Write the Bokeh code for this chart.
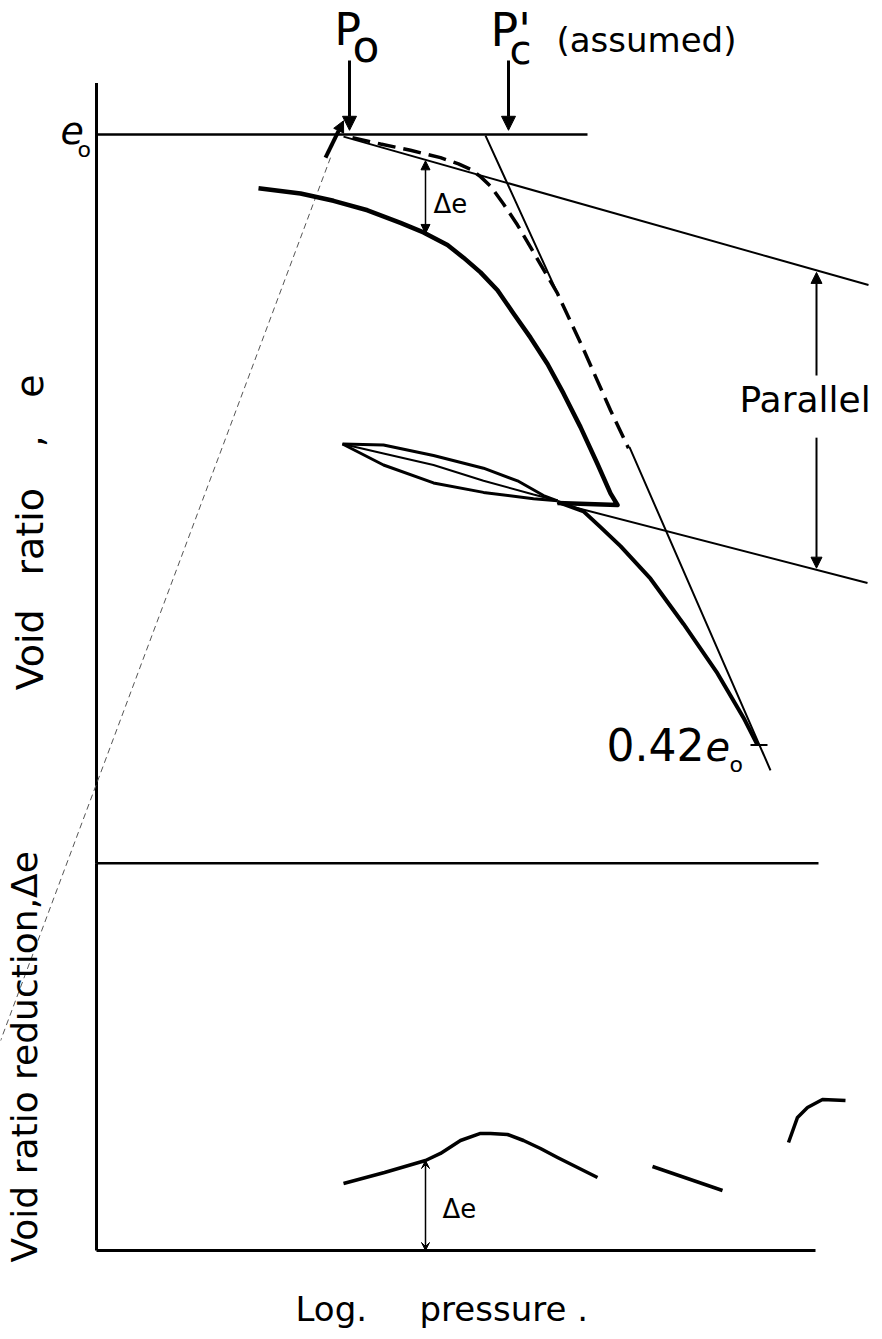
import math
from bokeh.plotting import figure
from bokeh.models import Range1d, ColumnDataSource, Arrow, NormalHead, VeeHead
from bokeh.core.properties import value
from bokeh.embed import file_html
from bokeh.resources import INLINE

NAN = float("nan")

# ---------------- data: x = log pressure (arbitrary units), upper panel y = void ratio e (e0 = 1)
E0 = 1.0
axis_top_e = 1.049
panel_divider_e = 0.3074

e0_line_x = [0.0, 4.91]

upper_par_x = [2.47, 7.72]
upper_par_e = [0.998, 0.857]
lower_par_x = [4.61, 7.71]
lower_par_e = [0.650, 0.574]

pc_line_x = [3.89, 4.61, NAN, 5.33, 6.74]
pc_line_e = [0.999, 0.849, NAN, 0.703, 0.396]

assumed_curve_x = [2.56, 2.84, 3.14, 3.44, 3.62, 3.74, 3.84, 3.94, 4.07, 4.21, 4.34, 4.61, 4.86, 5.14, 5.32]
assumed_curve_e = [0.997, 0.991, 0.985, 0.978, 0.972, 0.967, 0.960, 0.951, 0.934, 0.914, 0.893, 0.849, 0.798, 0.738, 0.702]

field_curve_x = [1.62, 2.04, 2.37, 2.71, 3.04, 3.27, 3.51, 3.67, 3.84, 4.01, 4.17, 4.34, 4.51,
                 4.67, 4.84, 5.01, 5.14, 5.21, 4.61]
field_curve_e = [0.949, 0.944, 0.937, 0.928, 0.916, 0.907, 0.895, 0.883, 0.869, 0.852, 0.830, 0.807, 0.782,
                 0.754, 0.722, 0.687, 0.659, 0.648, 0.650]

loop_x = [2.46, 2.87, 3.37, 3.87, 4.21, 4.47, 4.61]
loop_upper_e = [0.706, 0.705, 0.695, 0.683, 0.671, 0.657, 0.652]
loop_inner_x = [2.46, 2.87, 3.37, 3.87, 4.37, 4.61]
loop_inner_e = [0.706, 0.697, 0.686, 0.671, 0.658, 0.652]
loop_lower_x = [2.46, 2.87, 3.37, 3.87, 4.37, 4.61]
loop_lower_e = [0.706, 0.686, 0.669, 0.660, 0.654, 0.652]

virgin_x = [4.61, 4.87, 5.04, 5.24, 5.54, 5.87, 6.21, 6.47, 6.61]
virgin_e = [0.651, 0.642, 0.627, 0.609, 0.578, 0.535, 0.488, 0.446, 0.420]

end_mark_x = [6.54, 6.71]
end_mark_e = [0.420, 0.420]

guide_x = [2.34, -0.96]
guide_e = [0.978, 0.139]

# lower panel: y = void ratio reduction (delta e)
lower_axis_top_de = 0.368
baseline_x = [0.0, 7.19]
divider_x = [0.0, 7.22]
de_curve_x = [2.47, 2.88, 3.29, 3.44, 3.64, 3.84, 3.94, 4.11, 4.27, 4.44, 4.61, 4.77, 5.01]
de_curve_y = [0.0637, 0.0741, 0.0855, 0.0922, 0.1045, 0.1112, 0.1112, 0.1102, 0.1045, 0.0969, 0.0884, 0.0808, 0.0694]
de_seg_x = [5.56, 6.26]
de_seg_y = [0.0798, 0.0570]
de_hook_x = [6.92, 7.01, 7.11, 7.26, 7.49]
de_hook_y = [0.1026, 0.1264, 0.1359, 0.1435, 0.1425]

# arrows
pointer_x = [2.53, 4.12]
pointer_from = [1.0703, 1.0703]
pointer_to = [1.004, 1.004]
de_arrow_x = 3.29
de_arrow_e = [0.975, 0.906]
par_arrow_x = 7.20
par_up_e = [0.771, 0.869]
par_down_e = [0.712, 0.588]
de_low_arrow = [0.0, 0.0855]
kick_x = [2.29, 2.47]
kick_e = [0.978, 1.013]

# texts (upper panel coordinates; y is the text baseline)
lab_x = [-0.36, -0.19, 2.38, 2.56, 3.94, 4.13, 4.60, 3.37, 6.43, 5.10, 6.09, 6.33]
lab_e = [0.990, 0.978, 1.0836, 1.068, 1.0827, 1.0656, 1.0779, 0.925, 0.735, 0.405, 0.405, 0.394]
lab_t = ["e", "o", "P", "o", "P'", "c", "(assumed)", "Δe", "Parallel", "0.42", "e", "o"]
lab_s = [38, 22, 44, 44, 46, 40, 34, 26, 36, 44, 40, 22]
lab_st = ["italic", "normal", "normal", "normal", "normal", "normal", "normal", "normal", "normal", "normal", "italic", "normal"]

ylab_x = [-0.50, -0.50, -0.50, -0.50]
ylab_e = [0.472, 0.581, 0.703, 0.750]
ylab_t = ["Void", "ratio", ",", "e"]
ylab_size = 38

low_lab_x = [3.46, 1.99, 3.23]
low_lab_y = [0.0304, -0.0680, -0.0680]
low_lab_t = ["Δe", "Log.", "pressure ."]
low_lab_s = [26, 34, 34]

rot_lab_x = [-0.56]
rot_lab_y = [-0.0114]
rot_lab_t = ["Void ratio reduction,Δe"]
rot_size = 36

# ---------------- figure
PX_PER_X = 100.0      # screen px per x unit
Y_PER_PX = 0.00095    # y units per screen px
BL_H = 0.38           # em offset correcting the renderer's baseline placement (horizontal text)
BL_V = 0.44           # same for rotated text

p = figure(width=882, height=1339, x_range=Range1d(-0.96, 7.86),
           y_range=Range1d(-0.14475, 1.1273), output_backend="svg",
           toolbar_location=None, x_axis_location=None, y_axis_location=None,
           min_border=0)
p.extra_y_ranges = {"de": Range1d(-0.08455, 1.1875)}
p.grid.visible = False
p.outline_line_color = None
p.background_fill_color = "white"
p.border_fill_color = "white"

INK = "black"

# axes frame lines
p.line([0, 0], [axis_top_e, panel_divider_e], line_color=INK, line_width=3)
p.line([0, 0], [lower_axis_top_de, 0.0], line_color=INK, line_width=3, y_range_name="de")
p.line(divider_x, [lower_axis_top_de, lower_axis_top_de], line_color=INK, line_width=2.5, y_range_name="de")
p.line(baseline_x, [0.0, 0.0], line_color=INK, line_width=3, y_range_name="de")

# e0 reference
p.line(e0_line_x, [E0, E0], line_color=INK, line_width=2.5)

# guide line (faint)
p.line(guide_x, guide_e, line_color="#555555", line_width=1, line_dash="6 4")

# straight lines
p.line(upper_par_x, upper_par_e, line_color=INK, line_width=2)
p.line(lower_par_x, lower_par_e, line_color=INK, line_width=2)
p.line(pc_line_x, pc_line_e, line_color=INK, line_width=2)

# curves
p.line(assumed_curve_x, assumed_curve_e, line_color=INK, line_width=3.5, line_dash="18 8")
p.line(field_curve_x, field_curve_e, line_color=INK, line_width=4.5, line_join="round")
p.line(loop_x, loop_upper_e, line_color=INK, line_width=3, line_join="round")
p.line(loop_inner_x, loop_inner_e, line_color=INK, line_width=2)
p.line(loop_lower_x, loop_lower_e, line_color=INK, line_width=3, line_join="round")
p.line(virgin_x, virgin_e, line_color=INK, line_width=4, line_join="round")
p.line(end_mark_x, end_mark_e, line_color=INK, line_width=2)

# lower panel curves
p.line(de_curve_x, de_curve_y, line_color=INK, line_width=3.5, line_join="round", y_range_name="de")
p.line(de_seg_x, de_seg_y, line_color=INK, line_width=3.5, y_range_name="de")
p.line(de_hook_x, de_hook_y, line_color=INK, line_width=3.5, line_join="round", y_range_name="de")

# arrows
for xv in pointer_x:
    p.add_layout(Arrow(end=NormalHead(size=14, fill_color=INK, line_color=INK),
                       x_start=xv, y_start=pointer_from[0], x_end=xv, y_end=pointer_to[0],
                       line_color=INK, line_width=3))
p.add_layout(Arrow(end=NormalHead(size=11, fill_color=INK, line_color=INK),
                   x_start=kick_x[0], y_start=kick_e[0], x_end=kick_x[1], y_end=kick_e[1],
                   line_color=INK, line_width=4))
p.add_layout(Arrow(start=NormalHead(size=9, fill_color=INK, line_color=INK),
                   end=NormalHead(size=9, fill_color=INK, line_color=INK),
                   x_start=de_arrow_x, y_start=de_arrow_e[0], x_end=de_arrow_x, y_end=de_arrow_e[1],
                   line_color=INK, line_width=1.5))
p.add_layout(Arrow(end=NormalHead(size=11, fill_color=INK, line_color=INK),
                   x_start=par_arrow_x, y_start=par_up_e[0], x_end=par_arrow_x, y_end=par_up_e[1],
                   line_color=INK, line_width=2))
p.add_layout(Arrow(end=NormalHead(size=11, fill_color=INK, line_color=INK),
                   x_start=par_arrow_x, y_start=par_down_e[0], x_end=par_arrow_x, y_end=par_down_e[1],
                   line_color=INK, line_width=2))
p.add_layout(Arrow(start=VeeHead(size=8, fill_color=INK, line_color=INK),
                   end=VeeHead(size=8, fill_color=INK, line_color=INK),
                   x_start=de_arrow_x, y_start=de_low_arrow[0], x_end=de_arrow_x, y_end=de_low_arrow[1],
                   line_color=INK, line_width=1.5, y_range_name="de"))

# texts
FONT = value("DejaVu Sans")

def hshift(ys, sizes):
    return [y + BL_H * s * Y_PER_PX for y, s in zip(ys, sizes)]

src = ColumnDataSource(dict(x=lab_x, y=hshift(lab_e, lab_s), t=lab_t,
                            s=[f"{s}px" for s in lab_s], st=lab_st))
p.text(x="x", y="y", text="t", source=src, text_font=FONT, text_font_size="s",
       text_font_style="st", text_color=INK, text_align="left", text_baseline="alphabetic")

ysrc = ColumnDataSource(dict(x=[x - BL_V * ylab_size / PX_PER_X for x in ylab_x], y=ylab_e, t=ylab_t))
p.text(x="x", y="y", text="t", source=ysrc, text_font=FONT, text_font_size=value(f"{ylab_size}px"),
       text_color=INK, text_align="left", text_baseline="alphabetic", angle=math.pi / 2)

lsrc = ColumnDataSource(dict(x=low_lab_x, y=hshift(low_lab_y, low_lab_s), t=low_lab_t,
                             s=[f"{s}px" for s in low_lab_s]))
p.text(x="x", y="y", text="t", source=lsrc, text_font=FONT, text_font_size="s",
       text_color=INK, text_align="left", text_baseline="alphabetic", y_range_name="de")

rsrc = ColumnDataSource(dict(x=[x - BL_V * rot_size / PX_PER_X for x in rot_lab_x], y=rot_lab_y, t=rot_lab_t))
p.text(x="x", y="y", text="t", source=rsrc, text_font=FONT, text_font_size=value(f"{rot_size}px"),
       text_color=INK, text_align="left", text_baseline="alphabetic", angle=math.pi / 2,
       y_range_name="de")

open("out.html", "w").write(file_html(p, INLINE))
